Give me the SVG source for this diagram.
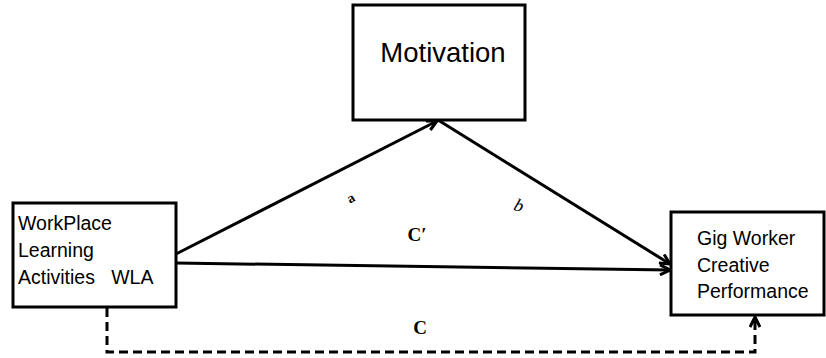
<svg xmlns="http://www.w3.org/2000/svg" width="826" height="358" viewBox="0 0 826 358">
<style>
.box{fill:#fff;stroke:#000;stroke-width:3}
.lbl{font-family:"Liberation Sans",Arial,sans-serif;fill:#000}
.conn{fill:none;stroke:#000;stroke-width:3}
.dash{stroke-dasharray:9 5}
.ser{font-family:"Liberation Serif","Times New Roman",serif;fill:#000}
</style>
<defs>
<marker id="arr" viewBox="0 0 12 12" refX="11" refY="6" markerWidth="12" markerHeight="12" markerUnits="userSpaceOnUse" orient="auto">
<path d="M1,1 L11,6 L1,11" fill="none" stroke="#000" stroke-width="3"/>
</marker>
</defs>
<g id="connectors">
<line class="conn" x1="176" y1="254" x2="437" y2="121" marker-end="url(#arr)"/>
<line class="conn" x1="438" y1="120" x2="670" y2="264" marker-end="url(#arr)"/>
<line class="conn" x1="176" y1="263" x2="670" y2="270" marker-end="url(#arr)"/>
<polyline class="conn dash" points="107,308 107,352 755,352 755,317" marker-end="url(#arr)"/>
<text class="ser" x="353" y="202" font-size="14" font-weight="bold" transform="rotate(-30 353 202)" text-anchor="middle">a</text>
<text class="ser" x="517" y="211" font-size="18" font-style="italic" transform="rotate(20 517 211)" text-anchor="middle">b</text>
<text class="ser" x="417" y="241" font-size="19" font-weight="bold" text-anchor="middle">C′</text>
<text class="ser" x="420" y="334" font-size="19" font-weight="bold" text-anchor="middle">C</text>
</g>
<g id="motivation">
<rect class="box" x="353" y="5" width="172" height="115"/>
<text class="lbl" x="443" y="62" font-size="27.5" text-anchor="middle">Motivation</text>
</g>
<g id="wla">
<rect class="box" x="13" y="203" width="163" height="104"/>
<text class="lbl" x="18" y="230" font-size="19.5">WorkPlace</text>
<text class="lbl" x="18" y="257" font-size="19.5">Learning</text>
<text class="lbl" x="18" y="284" font-size="19.5" xml:space="preserve">Activities   WLA</text>
</g>
<g id="gig">
<rect class="box" x="671" y="212" width="153" height="103"/>
<text class="lbl" x="697" y="245" font-size="19.5">Gig Worker</text>
<text class="lbl" x="697" y="272" font-size="19.5">Creative</text>
<text class="lbl" x="697" y="298" font-size="19.5">Performance</text>
</g>
</svg>
